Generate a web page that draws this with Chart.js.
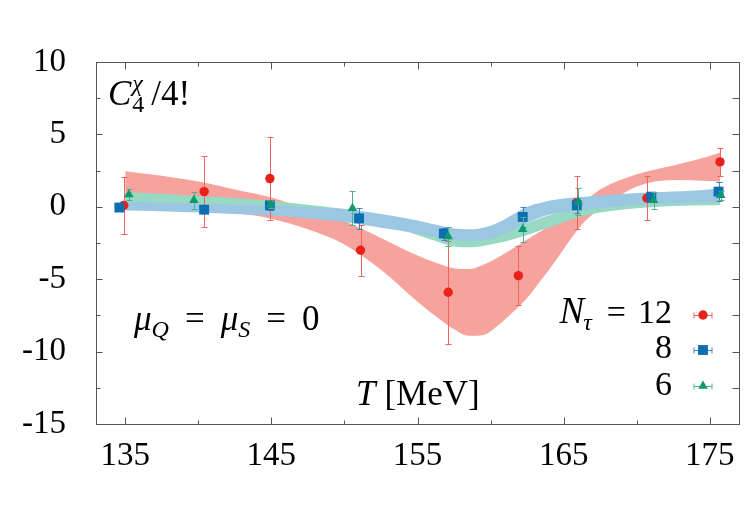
<!DOCTYPE html>
<html>
<head>
<meta charset="utf-8">
<script src="https://cdn.jsdelivr.net/npm/chart.js@4.4.0/dist/chart.umd.min.js"></script>
<style>
  html, body { margin: 0; padding: 0; background: #fff; }
  canvas { display: block; }
</style>
</head>
<body>
<canvas id="c4Chart" width="750" height="515"></canvas>
<script>
// Datos: T en MeV, C4/4! con su error
const tempN12 = [134.9, 140.4, 144.9, 151.1, 157.1, 161.9, 165.9, 170.7, 175.7];
const valN12  = [0.1, 1.05, 1.95, -3.0, -5.9, -4.75, 0.3, 0.6, 3.1];
const errN12  = [1.95, 2.45, 2.85, 1.75, 3.55, 2.05, 1.8, 1.5, 0.95];

const tempN8 = [134.6, 140.4, 144.9, 151.0, 156.8, 162.2, 165.9, 171.0, 175.6];
const valN8  = [-0.05, -0.2, 0.1, -0.8, -1.85, -0.7, 0.1, 0.7, 1.05];
const errN8  = [0.2, 0.25, 0.3, 0.7, 0.42, 0.72, 0.5, 0.35, 0.65];

const tempN6 = [135.25, 139.7, 144.95, 150.55, 157.1, 162.2, 166.0, 171.15, 175.75];
const valN6  = [0.85, 0.45, 0.15, -0.1, -2.05, -1.55, 0.35, 0.45, 0.8];
const errN6  = [0.35, 0.6, 0.25, 1.17, 0.65, 0.88, 0.95, 0.6, 0.3];

// Bandas de ajuste (borde inferior / superior)
const bandT      = [135, 137.5, 140, 142.5, 145, 147.5, 150, 152.5, 155, 156.5, 157.5, 158.5, 159.5, 160.5, 161.5, 162.5, 163.5, 164.5, 165.5, 166.5, 167.5, 168.5, 170, 172.5, 175, 175.7];
const bandN12Low = [-0.15, -0.25, -0.35, -0.45, -0.82, -1.55, -2.6, -4.35, -6.55, -7.75, -8.45, -8.9, -8.85, -8.2, -7.3, -6.3, -5.0, -3.65, -2.2, -0.95, -0.15, 0.55, 1.4, 1.85, 1.78, 1.73];
const bandN12Up  = [2.46, 2.15, 1.75, 1.2, 0.65, -0.2, -1.0, -2.15, -3.37, -3.95, -4.25, -4.3, -4.0, -3.5, -2.9, -2.25, -1.65, -1.04, -0.35, 0.45, 1.2, 1.7, 2.25, 2.85, 3.5, 3.75];
const bandN8Low  = [-0.25, -0.3, -0.4, -0.5, -0.6, -0.8, -1.05, -1.45, -1.85, -2.15, -2.3, -2.35, -2.3, -2.05, -1.6, -1.1, -0.7, -0.45, -0.3, -0.2, -0.1, 0.0, 0.15, 0.25, 0.33, 0.35];
const bandN8Up   = [0.35, 0.3, 0.2, 0.15, 0.1, -0.05, -0.15, -0.5, -0.95, -1.3, -1.5, -1.55, -1.45, -1.1, -0.55, 0.0, 0.3, 0.5, 0.62, 0.7, 0.78, 0.85, 0.95, 1.05, 1.2, 1.3];
const bandN6Low  = [0.3, 0.25, 0.2, 0.1, -0.05, -0.3, -0.6, -1.15, -1.95, -2.45, -2.75, -2.8, -2.7, -2.5, -2.25, -1.95, -1.6, -1.25, -0.9, -0.6, -0.4, -0.25, -0.1, 0.05, 0.1, 0.12];
const bandN6Up   = [1.0, 0.9, 0.75, 0.6, 0.4, 0.15, -0.15, -0.6, -1.3, -1.75, -2.0, -2.05, -1.95, -1.75, -1.45, -1.1, -0.75, -0.45, -0.2, 0.0, 0.15, 0.25, 0.35, 0.45, 0.55, 0.6];

const xTicks = [135, 145, 155, 165, 175];
const yTicks = [-15, -10, -5, 0, 5, 10];

const serif = "'Liberation Serif', 'DejaVu Serif', serif";
const colRed = '#e8221b', colBlue = '#0e6eb2', colGreen = '#0b9a70';
const errRed = '#f0645c', errBlue = '#3a86c4', errGreen = '#4fb393';

const toXY = (xs, ys) => xs.map((x, i) => ({ x: x, y: ys[i] }));

function band(ys, color, order, fillTarget) {
    return {
        data: toXY(bandT, ys),
        borderWidth: 0,
        pointRadius: 0,
        backgroundColor: color,
        cubicInterpolationMode: 'monotone',
        fill: fillTarget === undefined ? false : fillTarget,
        order: order
    };
}

function points(xs, ys, errs, color, errColor, style, radius, order) {
    return {
        data: toXY(xs, ys),
        errors: errs,
        errorColor: errColor,
        showLine: false,
        pointStyle: style,
        pointRadius: radius,
        pointBorderWidth: 0,
        backgroundColor: color,
        borderColor: color,
        order: order
    };
}

// Barras de error, dibujadas justo antes de cada serie de puntos
const errorBarPlugin = {
    id: 'errorBars',
    beforeDatasetDraw(chart, args) {
        const ds = chart.data.datasets[args.index];
        if (!ds.errors) return;
        const sx = chart.scales.x, sy = chart.scales.y, ctx = chart.ctx;
        ctx.save();
        ctx.strokeStyle = ds.errorColor;
        ctx.lineWidth = 1;
        ds.data.forEach((p, i) => {
            const px = Math.round(sx.getPixelForValue(p.x)) + 0.5;
            const top = Math.round(sy.getPixelForValue(p.y + ds.errors[i])) + 0.5;
            const bot = Math.round(sy.getPixelForValue(p.y - ds.errors[i])) + 0.5;
            ctx.beginPath();
            ctx.moveTo(px, top); ctx.lineTo(px, bot);
            ctx.moveTo(px - 3, top); ctx.lineTo(px + 3, top);
            ctx.moveTo(px - 3, bot); ctx.lineTo(px + 3, bot);
            ctx.stroke();
        });
        ctx.restore();
    }
};

// Marco y marcas de los ejes hacia dentro
const framePlugin = {
    id: 'frame',
    afterDraw(chart) {
        const ctx = chart.ctx, ca = chart.chartArea;
        const sx = chart.scales.x, sy = chart.scales.y;
        ctx.save();
        ctx.strokeStyle = '#555';
        ctx.lineWidth = 1;
        const l = Math.round(ca.left) + 0.5, r = Math.round(ca.right) + 0.5;
        const t = Math.round(ca.top) + 0.5, b = Math.round(ca.bottom) + 0.5;
        ctx.strokeRect(l, t, r - l, b - t);
        ctx.beginPath();
        for (let v = 135; v <= 175; v += 5) {
            const len = (v - 135) % 10 === 0 ? 7 : 4;
            const px = Math.round(sx.getPixelForValue(v)) + 0.5;
            ctx.moveTo(px, b); ctx.lineTo(px, b - len);
            ctx.moveTo(px, t); ctx.lineTo(px, t + len);
        }
        for (let v = -12.5; v < 10; v += 2.5) {
            const len = v % 5 === 0 ? 6 : 4;
            const py = Math.round(sy.getPixelForValue(v)) + 0.5;
            ctx.moveTo(l, py); ctx.lineTo(l + len, py);
            ctx.moveTo(r, py); ctx.lineTo(r - 7, py);
        }
        ctx.stroke();
        ctx.restore();
    }
};

// Dibuja trozos de texto seguidos: [texto, fuente, desplazamiento y, hueco después]
function drawRuns(ctx, x, y, runs) {
    runs.forEach(r => {
        ctx.font = r[1];
        ctx.fillText(r[0], x, y + (r[2] || 0));
        x += ctx.measureText(r[0]).width + (r[3] || 0);
    });
    return x;
}

// Textos en la zona del gráfico y la leyenda
const labelsPlugin = {
    id: 'mathLabels',
    afterDraw(chart) {
        const ctx = chart.ctx, ca = chart.chartArea;
        const it = 'italic 35px ' + serif, up = '35px ' + serif;
        const itS = 'italic 24px ' + serif, upS = '24px ' + serif;
        ctx.save();
        ctx.fillStyle = '#000';
        ctx.textBaseline = 'alphabetic';
        ctx.textAlign = 'left';

        // C_4^chi / 4!
        let x = ca.left + 12, y = ca.top + 43;
        ctx.font = it; ctx.fillText('C', x, y); x += ctx.measureText('C').width + 1;
        ctx.font = itS; ctx.fillText('χ', x, y - 14);
        ctx.font = upS; ctx.fillText('4', x, y + 7);
        x += 19;
        ctx.font = up; ctx.fillText('/4!', x, y);

        // mu_Q = mu_S = 0
        drawRuns(ctx, ca.left + 38, ca.top + 268, [
            ['μ', it], ['Q', itS, 7, 16], ['=', up, 0, 16],
            ['μ', it], ['S', itS, 7, 16], ['=', up, 0, 16], ['0', up]
        ]);

        // T [MeV]
        drawRuns(ctx, ca.left + 260, ca.top + 343, [['T', it, 0, 9], ['[MeV]', up]]);

        // Leyenda
        const rightEdge = ca.left + 576;
        ctx.textAlign = 'right';
        ctx.font = '34px ' + serif;
        ctx.fillText('12', rightEdge, ca.top + 261);
        let rx = rightEdge - ctx.measureText('12').width - 12;
        ctx.fillText('=', rx, ca.top + 261);
        rx -= ctx.measureText('=').width + 15;
        ctx.font = itS;
        ctx.fillText('τ', rx, ca.top + 268);
        rx -= ctx.measureText('τ').width - 1;
        ctx.font = 'italic 37px ' + serif;
        ctx.fillText('N', rx, ca.top + 261);
        ctx.font = '34px ' + serif;
        ctx.fillText('8', rightEdge, ca.top + 296);
        ctx.fillText('6', rightEdge, ca.top + 333);

        const mx = ca.left + 607;
        const rows = [
            [ca.top + 253, colRed, errRed, 'circle', 4.7],
            [ca.top + 288, colBlue, errBlue, 'rect', 7],
            [ca.top + 324, colGreen, errGreen, 'triangle', 5.5]
        ];
        rows.forEach(rw => {
            const yy = Math.round(rw[0]) + 0.5;
            ctx.strokeStyle = rw[2];
            ctx.lineWidth = 1;
            ctx.beginPath();
            ctx.moveTo(mx - 9, yy); ctx.lineTo(mx + 9, yy);
            ctx.moveTo(mx - 9, yy - 3); ctx.lineTo(mx - 9, yy + 3);
            ctx.moveTo(mx + 9, yy - 3); ctx.lineTo(mx + 9, yy + 3);
            ctx.stroke();
            ctx.fillStyle = rw[1];
            ctx.strokeStyle = rw[1];
            Chart.helpers.drawPoint(ctx, { pointStyle: rw[3], radius: rw[4], rotation: 0, borderWidth: 0 }, mx, rw[0]);
        });
        ctx.restore();
    }
};

const ctx = document.getElementById('c4Chart').getContext('2d');
const c4Chart = new Chart(ctx, {
    type: 'line',
    data: {
        datasets: [
            band(bandN12Low, '#f5a39c', 30),
            band(bandN12Up, '#f5a39c', 30, 0),
            band(bandN6Low, '#97d9c3', 20),
            band(bandN6Up, '#97d9c3', 20, 2),
            band(bandN8Low, '#9cc7e2', 10),
            band(bandN8Up, '#9cc7e2', 10, 4),
            points(tempN12, valN12, errN12, colRed, errRed, 'circle', 4.7, 3),
            points(tempN8, valN8, errN8, colBlue, errBlue, 'rect', 7, 2),
            points(tempN6, valN6, errN6, colGreen, errGreen, 'triangle', 5.5, 1)
        ]
    },
    options: {
        responsive: false,
        animation: false,
        layout: { padding: { top: 62, right: 11, left: 0, bottom: 0 } },
        plugins: {
            legend: { display: false },
            tooltip: { enabled: false },
            filler: { propagate: false }
        },
        scales: {
            x: {
                type: 'linear',
                min: 133,
                max: 177,
                grid: { display: false },
                border: { display: false },
                afterBuildTicks: (scale) => { scale.ticks = xTicks.map(v => ({ value: v })); },
                afterFit: (scale) => { scale.height = 91; },
                ticks: {
                    padding: 5,
                    color: '#000',
                    font: { family: serif, size: 33 },
                    callback: (v) => String(v)
                }
            },
            y: {
                min: -15,
                max: 10,
                grid: { display: false },
                border: { display: false },
                afterBuildTicks: (scale) => { scale.ticks = yTicks.map(v => ({ value: v })); },
                afterFit: (scale) => { scale.width = 96; },
                ticks: {
                    padding: 22,
                    color: '#000',
                    font: { family: serif, size: 33 },
                    callback: (v) => String(v)
                }
            }
        }
    },
    plugins: [errorBarPlugin, framePlugin, labelsPlugin]
});
</script>
</body>
</html>
